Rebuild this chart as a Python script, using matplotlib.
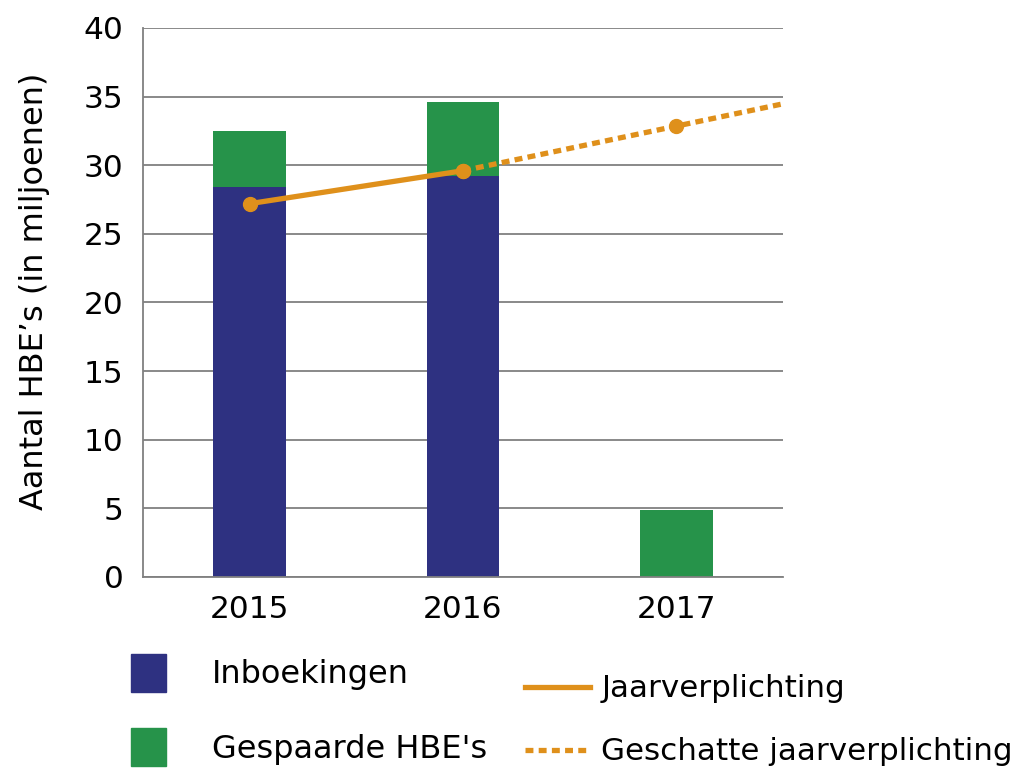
import numpy as np
import matplotlib.pyplot as plt
from matplotlib.patches import Patch
from matplotlib.lines import Line2D

years = ['2015', '2016', '2017']
inboekingen = [28.4, 29.2, 0.0]
gespaard = [4.1, 5.4, 4.9]          # stacked on top of inboekingen
verplichting = [27.2, 29.6]          # 2015, 2016
geschat = [29.6, 32.85]              # 2016, 2017 (estimated)

blue = '#2E3181'
green = '#26934A'
orange = '#DF901B'
dots = (0, (1.5, 1.0))

plt.rcParams['font.family'] = ['DejaVu Sans']

fig = plt.figure(figsize=(10.24, 7.69), dpi=100)
ax = fig.add_axes([0.1396, 0.2497, 0.625, 0.7139])

x = np.arange(len(years))
ax.bar(x, inboekingen, width=0.34, color=blue, zorder=2)
ax.bar(x, gespaard, width=0.34, bottom=inboekingen, color=green, zorder=2)

ax.plot(x[:2], verplichting, color=orange, lw=3.8, marker='o', ms=10, zorder=3)
# estimated line, extended to the right edge of the plot
slope = geschat[1] - geschat[0]
xe = np.array([1, 2, 2.5])
ye = geschat[0] + slope * (xe - 1)
ax.plot(xe, ye, color=orange, lw=3.8, ls=dots, zorder=3)
ax.plot(x[1:], geschat, color=orange, lw=0, marker='o', ms=10, zorder=3)

ax.set_xlim(-0.5, 2.5)
ax.set_ylim(0, 40)
ax.set_yticks(range(0, 41, 5))
ax.set_xticks(x)
ax.set_xticklabels(years)
ax.tick_params(axis='both', length=0, labelsize=22.5, colors='black')
ax.tick_params(axis='y', pad=14)
ax.tick_params(axis='x', pad=13)
ax.grid(axis='y', color='#808080', lw=1.3, zorder=0)
for s in ['top', 'right']:
    ax.spines[s].set_visible(False)
for s in ['left', 'bottom']:
    ax.spines[s].set_color('#808080')
    ax.spines[s].set_linewidth(1.3)
ax.set_ylabel('Aantal HBE\u2019s (in miljoenen)', fontsize=23)
ax.yaxis.set_label_coords(-0.145, 0.52)

bar_handles = [
    Patch(color=blue, label='Inboekingen'),
    Patch(color=green, label="Gespaarde HBE's"),
]
line_handles = [
    Line2D([], [], color=orange, lw=3.8, label='Jaarverplichting'),
    Line2D([], [], color=orange, lw=3.8, ls=dots, label='Geschatte jaarverplichting'),
]
leg1 = fig.legend(handles=bar_handles, loc='upper left',
                  bbox_to_anchor=(0.128, 0.150), frameon=False, fontsize=23,
                  borderpad=0, borderaxespad=0,
                  handlelength=1.08, handleheight=1.45, handletextpad=1.45,
                  labelspacing=1.15)
leg2 = fig.legend(handles=line_handles, loc='upper left',
                  bbox_to_anchor=(0.513, 0.123), frameon=False, fontsize=22.3,
                  borderpad=0, borderaxespad=0,
                  handlelength=2.1, handletextpad=0.35, labelspacing=1.1)

fig.savefig('out.png', dpi=100)
